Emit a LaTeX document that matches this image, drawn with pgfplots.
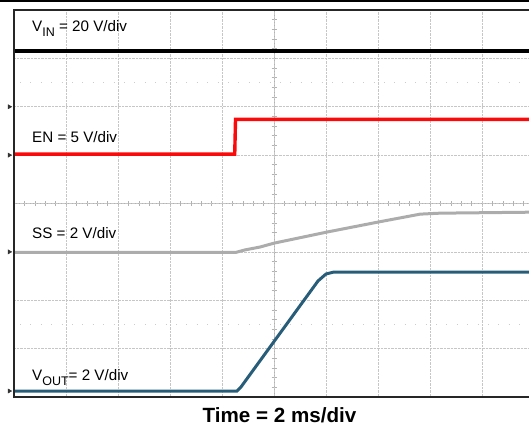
\documentclass[border=0pt]{standalone}
\usepackage{pgfplots}
\pgfplotsset{compat=1.18}
\usepackage{fontspec}
\setmainfont{Liberation Sans}
\definecolor{vout}{RGB}{40,93,122}
\definecolor{ssgray}{RGB}{172,172,172}
\definecolor{enred}{RGB}{250,10,10}
\begin{document}
\begin{tikzpicture}[x=1pt,y=1pt]
\path[use as bounding box] (0,0) rectangle (529,426);
% thin rule at the very top
\draw[line width=1.2pt, black] (0,425) -- (529,425);
% centre lines with small ticks (under the traces)
\draw[gray!60, line width=0.8pt] (274,29) -- (274,416);
\draw[gray!60, line width=0.8pt] (14,222.5) -- (529,222.5);
\foreach \i in {1,...,39} \draw[gray!60, line width=0.6pt] (271.5,29+9.675*\i) -- (276.5,29+9.675*\i);
\foreach \i in {1,...,49} \draw[gray!60, line width=0.6pt] (14+10.4*\i,220) -- (14+10.4*\i,225);
% sparse dotted rows
\draw[gray!40, line width=0.8pt, dash pattern=on 0.8pt off 9.6pt] (20,343.4) -- (529,343.4);
\draw[gray!40, line width=0.8pt, dash pattern=on 0.8pt off 9.6pt] (20,101.6) -- (529,101.6);
\begin{axis}[
  at={(14pt,29pt)}, anchor=south west,
  scale only axis, width=515pt, height=387pt,
  xmin=0, xmax=9.904, ymin=0, ymax=8,
  axis line style={draw=none},
  xtick={1,...,9}, ytick={1,...,7},
  xticklabels={}, yticklabels={},
  major tick length=0pt,
  grid=major,
  major grid style={gray!45, densely dotted, line width=0.7pt},
  clip=false,
]
% VIN
\addplot[black, line width=4pt, line cap=butt] coordinates {(0,7.152) (9.904,7.152)};
% EN
\addplot[enred, line width=3.4pt, line cap=butt, line join=miter] coordinates {
  (0,5.02) (4.245,5.02) (4.26,5.74) (9.904,5.74)};
% SS
\addplot[ssgray, line width=3pt, line cap=butt] coordinates {
  (0,2.99) (4.27,2.99) (4.44,3.04) (4.73,3.10) (5.0,3.18) (6.02,3.41)
  (7.02,3.62) (7.81,3.78) (8.19,3.80) (9.904,3.82)};
% VOUT
\addplot[vout, line width=3pt, line cap=butt] coordinates {
  (0,0.124) (4.288,0.124) (4.365,0.207) (5.846,2.398) (6.0,2.543)
  (6.154,2.584) (9.904,2.584)};
% channel ground markers
\addplot[only marks, mark=triangle*, mark size=2.4pt, mark options={rotate=-90, fill=black!80, draw=black!80}]
  coordinates {(-0.09,6.0) (-0.09,5.0) (-0.09,3.0) (-0.09,0.124)};
\end{axis}
% frame
\draw[black!85, line width=2.2pt] (14,416) -- (529,416);
\draw[black!85, line width=2.2pt] (14,29) -- (529,29);
\draw[black!85, line width=2.2pt] (14,27.9) -- (14,417.1);
% labels
\node[anchor=base west, inner sep=0pt, font=\fontsize{15.2}{18}\selectfont] at (32,394)
  {V\raisebox{-5pt}{\fontsize{12.5}{13}\selectfont IN} = 20 V/div};
\node[anchor=base west, inner sep=0pt, font=\fontsize{15.2}{18}\selectfont] at (32,283) {EN = 5 V/div};
\node[anchor=base west, inner sep=0pt, font=\fontsize{15.2}{18}\selectfont] at (32,188) {SS = 2 V/div};
\node[anchor=base west, inner sep=0pt, font=\fontsize{15.2}{18}\selectfont] at (32,46)
  {V\raisebox{-5pt}{\fontsize{12.5}{13}\selectfont OUT}= 2 V/div};
\node[anchor=base, inner sep=0pt, font=\fontsize{20.6}{24}\selectfont\bfseries] at (279.5,4) {Time = 2 ms/div};
\end{tikzpicture}
\end{document}
